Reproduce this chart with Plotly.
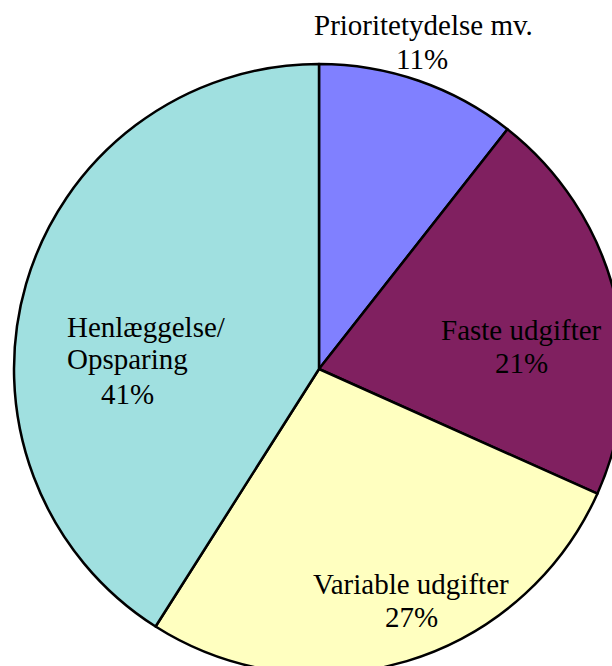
import plotly.graph_objects as go

# Data
categories = ["Prioritetydelse mv.", "Faste udgifter", "Variable udgifter", "Henlæggelse/ Opsparing"]
shares = [10.6, 21.1, 27.3, 41.0]
colors = ["#8080FF", "#802060", "#FFFFC0", "#A0E0E0"]

W, H = 640, 700  # canvas slightly larger than window; the pie is clipped like the original

fig = go.Figure()
fig.add_trace(go.Pie(
    labels=categories,
    values=shares,
    sort=False,
    direction="clockwise",
    rotation=0,
    marker=dict(colors=colors, line=dict(color="black", width=2.5)),
    textinfo="none",
    hoverinfo="label+percent",
    showlegend=False,
    domain=dict(x=[14 / W, 624 / W], y=[1 - 674 / H, 1 - 64 / H]),
))

total = sum(shares)
pct = [f"{round(v / total * 100)}%" for v in shares]

# label text lines (name lines + percent line)
label_lines = [
    [categories[0], pct[0]],
    [categories[1], pct[1]],
    [categories[2], pct[2]],
    ["Henlæggelse/", "Opsparing", pct[3]],
]
# layout of label lines: (x px, anchor, [line centre y px])
label_layout = [
    ([423, 422], "center", [25, 59]),
    ([521, 521], "center", [330, 363]),
    ([411, 411], "center", [584, 617]),
    ([65, 65, 99], "left", [327, 359, 394]),
]

font = dict(family="Liberation Serif, Times New Roman, serif", size=29, color="black")
for lines, (xs, anchor, ys) in zip(label_lines, label_layout):
    for txt, x, y in zip(lines, xs, ys):
        fig.add_annotation(x=x / W, y=1 - y / H, xref="paper", yref="paper", text=txt,
                           showarrow=False, xanchor=anchor, yanchor="middle",
                           align=anchor, font=font)

fig.update_layout(
    width=W, height=H,
    margin=dict(l=0, r=0, t=0, b=0),
    paper_bgcolor="white",
    plot_bgcolor="white",
)

fig.write_html(
    "out.html",
    config={"displayModeBar": False},
    post_script="document.body.style.margin='0';document.body.style.overflow='hidden';document.documentElement.style.overflow='hidden';",
)
